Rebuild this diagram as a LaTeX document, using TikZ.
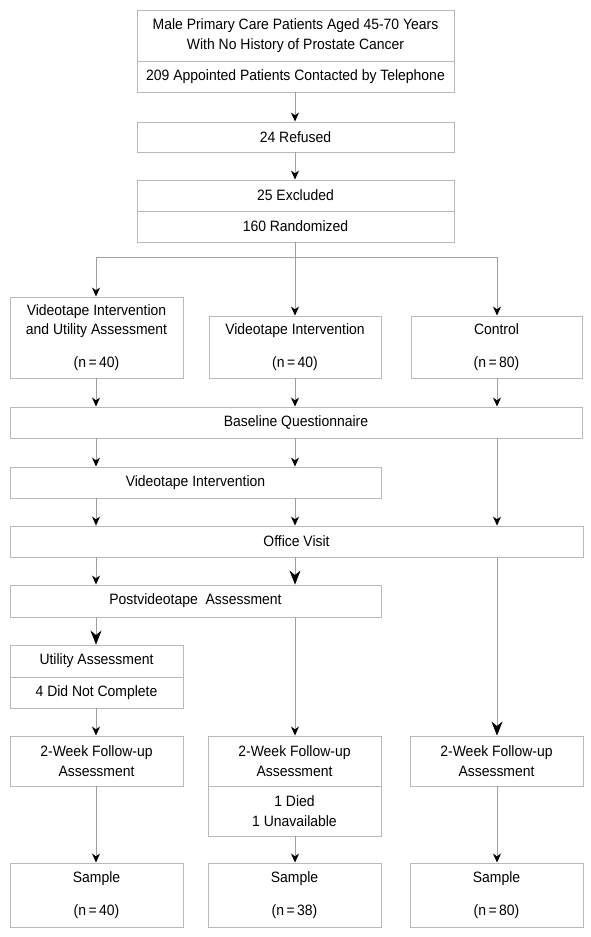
\documentclass[tikz,border=0pt]{standalone}
\usepackage{fontspec}
\setmainfont{Liberation Sans}[FakeStretch=0.93]
\usetikzlibrary{arrows.meta}
\tikzset{
  box/.style={draw=gray!55, line width=0.9pt, rectangle, inner sep=0pt, align=center,
    font=\fontsize{15}{19.5}\selectfont, text=black},
  conn/.style={draw=gray!75, line width=0.9pt},
  sarr/.style={conn, -{Stealth[length=9pt,width=8pt,inset=2.8pt,black]}},
  larr/.style={conn, -{Stealth[length=14pt,width=11pt,inset=4.5pt,black]}},
}
\newcommand{\nn}[1]{(n\,=\,#1)}
\begin{document}
\begin{tikzpicture}[x=1pt,y=-1pt]
\useasboundingbox[fill=white] (0,0) rectangle (590,937);
% column coordinates
\coordinate (c1) at (96,0);
\coordinate (c2) at (295,0);
\coordinate (c3) at (497,0);
\coordinate (split) at (295,257);
% top boxes
\node[box, minimum width=317pt, minimum height=51pt] (top1) at (295.5,35.5) {Male Primary Care Patients Aged 45-70 Years\\With No History of Prostate Cancer};
\node[box, minimum width=317pt, minimum height=31pt] (top2) at (295.5,76.5) {209 Appointed Patients Contacted by Telephone};
\node[box, minimum width=317pt, minimum height=30pt] (ref) at (295.5,137) {24 Refused};
\node[box, minimum width=317pt, minimum height=31pt] (excl) at (295.5,195.5) {25 Excluded};
\node[box, minimum width=317pt, minimum height=31pt] (rand) at (295.5,226.5) {160 Randomized};
% arms
\node[box, minimum width=173pt, minimum height=81pt] (vu) at (96.5,337.5) {Videotape Intervention\\and Utility Assessment\\[13pt]\nn{40}};
\node[box, minimum width=172pt, minimum height=62pt] (vi) at (295,347) {Videotape Intervention\\[13pt]\nn{40}};
\node[box, minimum width=171pt, minimum height=62pt] (ctrl) at (496.5,347) {Control\\[13pt]\nn{80}};
% wide boxes
\node[box, minimum width=572pt, minimum height=31pt] (base) at (296,422.5) {Baseline Questionnaire};
\node[box, minimum width=371pt, minimum height=31pt] (vid) at (195.5,482.5) {Videotape Intervention};
\node[box, minimum width=573pt, minimum height=31pt] (office) at (296.5,541.5) {Office Visit};
\node[box, minimum width=371pt, minimum height=32pt] (post) at (195.5,601) {Postvideotape\ \ Assessment};
% utility
\node[box, minimum width=173pt, minimum height=32pt] (util) at (96.5,661) {Utility Assessment};
\node[box, minimum width=173pt, minimum height=31pt] (dnc) at (96.5,692.5) {4 Did Not Complete};
% follow-up
\node[box, minimum width=173pt, minimum height=50pt] (fu1) at (96.5,761) {2-Week Follow-up\\Assessment};
\node[box, minimum width=173pt, minimum height=50pt] (fu2) at (294.5,761) {2-Week Follow-up\\Assessment};
\node[box, minimum width=173pt, minimum height=50pt] (died) at (294.5,811) {1 Died\\1 Unavailable};
\node[box, minimum width=173pt, minimum height=50pt] (fu3) at (496.5,761) {2-Week Follow-up\\Assessment};
% samples
\node[box, minimum width=173pt, minimum height=64pt] (s1) at (96.5,895) {Sample\\[13pt]\nn{40}};
\node[box, minimum width=173pt, minimum height=64pt] (s2) at (294.5,895) {Sample\\[13pt]\nn{38}};
\node[box, minimum width=173pt, minimum height=64pt] (s3) at (496.5,895) {Sample\\[13pt]\nn{80}};
% connectors
\draw[sarr] (top2.south -| c2) -- (ref.north -| c2);
\draw[sarr] (ref.south -| c2) -- (excl.north -| c2);
\draw[sarr] (rand.south -| c2) -- (vi.north -| c2);
\draw[conn] (split -| c1) -- (split -| c3);
\draw[sarr] (split -| c1) -- (vu.north -| c1);
\draw[sarr] (split -| c3) -- (ctrl.north -| c3);
\draw[sarr] (vu.south -| c1) -- (base.north -| c1);
\draw[sarr] (vi.south -| c2) -- (base.north -| c2);
\draw[sarr] (ctrl.south -| c3) -- (base.north -| c3);
\draw[sarr] (base.south -| c1) -- (vid.north -| c1);
\draw[sarr] (base.south -| c2) -- (vid.north -| c2);
\draw[sarr] (base.south -| c3) -- (office.north -| c3);
\draw[sarr] (vid.south -| c1) -- (office.north -| c1);
\draw[sarr] (vid.south -| c2) -- (office.north -| c2);
\draw[sarr] (office.south -| c1) -- (post.north -| c1);
\draw[larr] (office.south -| c2) -- (post.north -| c2);
\draw[larr] (post.south -| c1) -- (util.north -| c1);
\draw[sarr] (post.south -| c2) -- (fu2.north -| c2);
\draw[larr] (office.south -| c3) -- (fu3.north -| c3);
\draw[sarr] (dnc.south -| c1) -- (fu1.north -| c1);
\draw[sarr] (fu1.south -| c1) -- (s1.north -| c1);
\draw[sarr] (died.south -| c2) -- (s2.north -| c2);
\draw[sarr] (fu3.south -| c3) -- (s3.north -| c3);
\end{tikzpicture}
\end{document}
